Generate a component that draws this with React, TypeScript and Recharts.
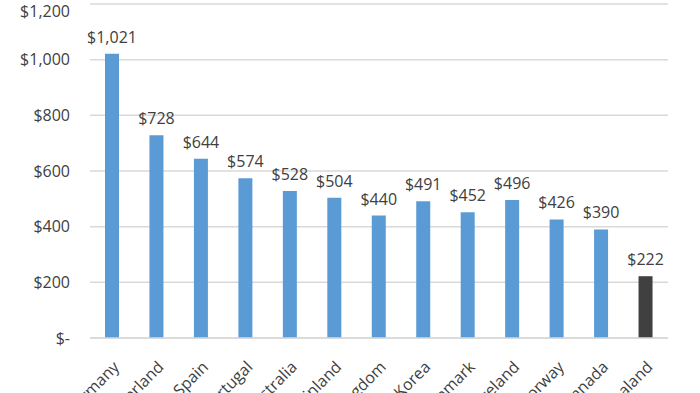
import React from "react";
import { BarChart, Bar, XAxis, YAxis, CartesianGrid, Cell, LabelList } from "recharts";

const countries = ["Germany", "Switzerland", "Spain", "Portugal", "Australia", "Finland", "United Kingdom", "South Korea", "Denmark", "Ireland", "Norway", "Canada", "New Zealand"];
const values = [1021, 728, 644, 574, 528, 504, 440, 491, 452, 496, 426, 390, 222];
const yTicks = [0, 200, 400, 600, 800, 1000, 1200];
const highlight = "New Zealand";

const data = countries.map((c, i) => ({ country: c, value: values[i] }));

const FONT = "'Open Sans', sans-serif";
const TEXT = "#404040";

const fmtMoney = (v: number) => (v === 0 ? "$-" : "$" + v.toLocaleString("en-US"));

const XTick = (props: any) => {
  const { x, y, payload } = props;
  const tx = x + 8;
  const ty = y + 22;
  return (
    <text
      x={tx}
      y={ty}
      transform={`rotate(-45, ${tx}, ${ty})`}
      textAnchor="end"
      fontFamily={FONT}
      fontSize={16}
      fill={TEXT}
    >
      {payload.value}
    </text>
  );
};

export default function App() {
  return (
    <div style={{ position: "absolute", top: 0, left: 0, width: 700, height: 393, background: "#fff" }}>
      <BarChart width={700} height={393} data={data} margin={{ top: 4, right: 32, bottom: 0, left: 0 }}>
        <CartesianGrid vertical={false} stroke="#d9d9d9" strokeWidth={1.5} />
        <XAxis
          dataKey="country"
          interval={0}
          height={55}
          axisLine={{ stroke: "#d9d9d9", strokeWidth: 1.5 }}
          tickLine={false}
          tick={<XTick />}
        />
        <YAxis
          width={90}
          domain={[0, 1200]}
          ticks={yTicks}
          axisLine={false}
          tickLine={false}
          tickSize={0}
          tickMargin={20}
          tickFormatter={fmtMoney}
          tick={{ fontFamily: FONT, fontSize: 16, fill: TEXT }}
        />
        <Bar dataKey="value" barSize={14} isAnimationActive={false}>
          {data.map((d) => (
            <Cell key={d.country} fill={d.country === highlight ? "#404040" : "#5b9bd5"} />
          ))}
          <LabelList
            dataKey="value"
            position="top"
            offset={11}
            formatter={(v: any) => fmtMoney(Number(v))}
            style={{ fontFamily: FONT, fontSize: 16, fill: TEXT }}
          />
        </Bar>
      </BarChart>
    </div>
  );
}
